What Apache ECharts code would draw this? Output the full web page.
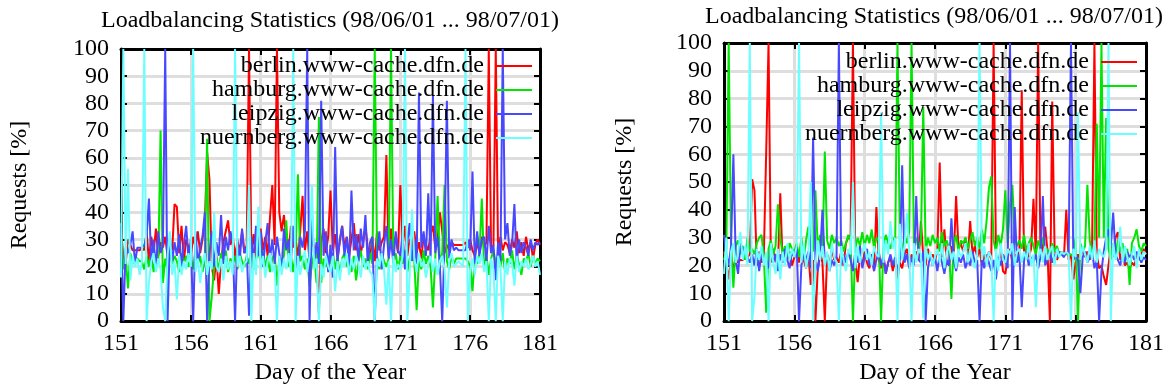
<!DOCTYPE html>
<html>
<head>
<meta charset="utf-8">
<title>Loadbalancing Statistics</title>
<script src="https://cdn.jsdelivr.net/npm/echarts@6/dist/echarts.min.js"></script>
<style>
  html, body { margin: 0; padding: 0; background: #fff; }
  #chart { width: 1167px; height: 390px; }
</style>
</head>
<body>
<div id="chart"></div>
<script>
// Share of requests handled by each DFN cache, sampled every 4 hours
// (6 samples per day) from day 151 to day 181.
const DAY_START = 151;
const SAMPLES_PER_DAY = 6;

const cacheNames = [
  'berlin.www-cache.dfn.de',
  'hamburg.www-cache.dfn.de',
  'leipzig.www-cache.dfn.de',
  'nuernberg.www-cache.dfn.de'
];
const cacheColors = ['#ff0000', '#00e600', '#4848ff', '#6cffff'];

const titleText = 'Loadbalancing Statistics (98/06/01 ... 98/07/01)';
const xTitle = 'Day of the Year';
const yTitle = 'Requests [%]';

// ---- first run ----
const berlinA = [
  33, 24, 21, 30, 28, 26,   26, 26, 26, 27, 26, 33,   22, 31, 25, 34, 24, 29,
  27, 31, 24, 29, 26, 43,   42, 25, 35, 22, 30, 27,   24, 31, 27, 33, 25, 30,
  36, 62, 52, 20, 15, 24,   10, 22, 29, 33, 37, 28,   31, 24, 29, 26, 33, 25,
  28, 100, 25, 32, 23, 30,  34, 26, 31, 24, 38, 50,   28, 100, 40, 33, 39, 30,
  25, 35, 27, 31, 23, 33,   46, 26, 33, 22, 30, 27,   24, 3, 29, 34, 25, 31,
  48, 26, 32, 23, 29, 35,   27, 31, 24, 30, 36, 26,   32, 25, 29, 35, 27, 24,
  30, 22, 33, 26, 29, 31,   61, 24, 34, 27, 31, 25,   50, 28, 35, 24, 30, 27,
  33, 25, 29, 23, 31, 28,   26, 32, 35, 27, 30, 40,   33, 25, 28, 26, 29, 28,
  28, 28, 28, 28, 29, 27,   30, 26, 24, 29, 25, 31,   27, 29, 100, 25, 28, 100,
  24, 31, 26, 29, 28, 25,   30, 27, 33, 25, 29, 24,   31, 26, 29, 23, 28, 30,
  28
];
const hamburgA = [
  36, 19, 24, 12, 25, 21,   23, 23, 22, 22, 19, 24,   20, 25, 18, 24, 21, 70,
  14, 23, 19, 25, 21, 24,   22, 18, 25, 21, 24, 20,   23, 19, 26, 21, 24, 18,
  22, 67, 0, 9, 20, 23,     19, 25, 21, 26, 18, 23,   21, 24, 19, 25, 22, 20,
  24, 21, 26, 19, 23, 25,   22, 26, 20, 24, 18, 23,   25, 13, 23, 21, 24, 37,
  20, 24, 18, 25, 54, 22,   24, 19, 23, 13, 21, 25,   14, 75, 14, 23, 20, 24,
  21, 25, 19, 24, 17, 23,   25, 20, 23, 18, 24, 15,   22, 26, 20, 23, 19, 25,
  21, 100, 24, 19, 25, 22,  20, 23, 100, 21, 25, 19,  24, 21, 26, 18, 23, 25,
  22, 4, 23, 19, 26, 21,    24, 20, 5, 23, 46, 21,    25, 50, 22, 19, 24, 21,
  23, 23, 23, 23, 23, 22,   20, 11, 24, 21, 25, 45,   19, 24, 17, 23, 26, 21,
  24, 20, 25, 18, 23, 21,   26, 19, 24, 21, 17, 23,   22, 25, 20, 24, 21, 23,
  22
];
const leipzigA = [
  35, 0, 27, 25, 28, 33,    21, 27, 27, 27, 28, 31,   45, 21, 30, 19, 33, 25,
  28, 100, 0, 31, 22, 29,   24, 32, 20, 28, 35, 23,   30, 0, 33, 21, 27, 31,
  40, 0, 25, 33, 20, 29,    24, 39, 21, 31, 26, 33,   29, 0, 30, 22, 34, 25,
  27, 2, 31, 22, 35, 24,    33, 20, 29, 36, 23, 30,   21, 31, 25, 19, 34, 26,
  30, 22, 35, 24, 19, 31,   27, 33, 100, 0, 40, 22,   29, 21, 81, 24, 33, 18,
  28, 16, 64, 22, 30, 35,   24, 31, 20, 48, 26, 32,   22, 34, 27, 39, 21, 29,
  31, 0, 25, 33, 19, 28,    35, 23, 30, 21, 33, 26,   24, 32, 19, 29, 36, 22,
  30, 21, 84, 27, 33, 24,   47, 22, 83, 25, 31, 20,   0, 29, 81, 23, 30, 26,
  27, 26, 26, 26, 26, 30,   26, 55, 21, 33, 24, 30,   31, 22, 35, 25, 28, 15,
  29, 22, 100, 30, 36, 24,  28, 43, 21, 30, 25, 29,   27, 24, 30, 26, 29, 28,
  29
];
const nuernbergA = [
  16, 100, 21, 56, 15, 24,  20, 23, 17, 22, 100, 0,   14, 22, 25, 18, 23, 19,
  5, 0, 24, 33, 17, 22,     8, 24, 17, 22, 19, 25,    20, 100, 18, 23, 14, 21,
  25, 17, 22, 19, 40, 20,   18, 23, 15, 24, 19, 22,   17, 100, 20, 24, 18, 21,
  22, 50, 0, 25, 17, 42,    19, 24, 16, 22, 25, 18,   21, 0, 24, 17, 23, 19,
  25, 18, 100, 0, 24, 17,   22, 26, 18, 24, 50, 19,   23, 0, 21, 16, 24, 20,
  18, 24, 11, 22, 15, 23,   20, 25, 17, 23, 19, 24,   21, 16, 24, 19, 22, 18,
  17, 0, 23, 20, 25, 19,    6, 22, 0, 24, 18, 21,     19, 24, 100, 0, 17, 41,
  23, 18, 25, 20, 22, 16,   21, 24, 18, 23, 17, 22,   24, 19, 5, 22, 25, 20,
  21, 22, 21, 20, 100, 0,   19, 23, 17, 24, 21, 25,   18, 22, 0, 23, 19, 0,
  24, 20, 0, 22, 17, 23,    21, 13, 24, 18, 22, 20,   23, 19, 21, 24, 20, 22,
  17
];

// ---- second run ----
const berlinB = [
  25, 21, 15, 22, 19, 23,   21, 22, 22, 23, 23, 24,   51, 47, 20, 25, 21, 24,
  61, 100, 21, 26, 22, 20,  46, 21, 24, 22, 25, 20,   23, 26, 21, 28, 22, 19,
  24, 13, 22, 0, 19, 25,    21, 0, 24, 20, 26, 22,    23, 21, 25, 20, 28, 30,
  31, 100, 22, 14, 24, 20,  25, 21, 19, 24, 18, 41,   22, 19, 24, 17, 21, 23,
  18, 22, 15, 21, 19, 24,   26, 20, 24, 21, 25, 22,   36, 23, 20, 26, 22, 24,
  22, 25, 57, 23, 33, 21,   20, 27, 23, 45, 26, 28,   25, 30, 22, 36, 24, 27,
  23, 26, 20, 24, 21, 25,   22, 100, 24, 20, 26, 18,  17, 23, 26, 21, 24, 22,
  25, 83, 22, 27, 23, 26,   44, 24, 100, 23, 27, 34,  25, 0, 79, 26, 22, 24,
  25, 23, 40, 22, 24, 15,   21, 24, 22, 26, 23, 25,   22, 26, 100, 24, 19, 20,
  16, 13, 20, 27, 23, 30,   32, 22, 25, 20, 21, 19,   21, 20, 23, 25, 24, 26,
  24
];
const hamburgB = [
  22, 26, 100, 28, 12, 27,  29, 24, 27, 22, 30, 25,   26, 24, 28, 30, 31, 23,
  3, 26, 29, 24, 27, 42,    30, 24, 27, 23, 28, 26,   25, 28, 23, 30, 22, 29,
  34, 27, 25, 47, 26, 31,   24, 61, 29, 26, 31, 28,   30, 27, 29, 25, 28, 31,
  29, 0, 26, 30, 27, 32,    27, 31, 28, 33, 26, 30,   29, 0, 27, 31, 28, 26,
  30, 27, 100, 29, 25, 31,  28, 32, 100, 27, 30, 26,  29, 77, 25, 30, 27, 31,
  28, 30, 25, 32, 27, 29,   26, 8, 28, 31, 25, 29,    28, 30, 26, 29, 32, 27,
  30, 26, 33, 28, 36, 48,   52, 29, 25, 31, 27, 33,   47, 28, 42, 49, 30, 27,
  29, 26, 31, 25, 28, 30,   27, 24, 29, 26, 30, 25,   26, 23, 28, 25, 27, 24,
  24, 24, 24, 24, 24, 23,   30, 0, 28, 25, 27, 49,    29, 24, 27, 71, 30, 100,
  30, 73, 26, 22, 28, 24,   29, 25, 28, 22, 26, 13,   28, 30, 33, 27, 25, 28,
  27
];
const leipzigB = [
  31, 24, 20, 27, 60, 22,   17, 28, 26, 25, 23, 21,   24, 20, 26, 18, 25, 21,
  22, 19, 26, 21, 24, 18,   24, 21, 26, 22, 19, 25,   23, 27, 0, 20, 24, 22,
  25, 19, 66, 22, 18, 24,   40, 21, 24, 18, 22, 20,   23, 100, 20, 24, 21, 25,
  22, 18, 25, 21, 27, 19,   23, 26, 20, 24, 18, 22,   25, 20, 23, 17, 21, 24,
  20, 23, 18, 22, 56, 21,   24, 19, 23, 20, 45, 22,   21, 25, 0, 19, 24, 20,
  23, 18, 24, 21, 17, 22,   20, 37, 22, 18, 23, 21,   24, 19, 22, 20, 25, 21,
  22, 0, 23, 19, 24, 21,    18, 22, 15, 23, 20, 24,   22, 19, 100, 0, 41, 21,
  24, 5, 22, 25, 20, 23,    21, 24, 19, 23, 45, 20,   22, 25, 21, 24, 23, 25,
  24, 23, 25, 24, 100, 22,  24, 22, 10, 23, 25, 21,   23, 25, 19, 22, 0, 18,
  25, 30, 33, 27, 39, 24,   22, 20, 24, 21, 25, 23,   24, 22, 25, 23, 21, 23,
  22
];
const nuernbergB = [
  17, 30, 0, 25, 28, 21,    24, 32, 22, 27, 20, 100,  0, 9, 26, 22, 27, 20,
  25, 0, 28, 21, 17, 26,    15, 25, 20, 28, 22, 26,   23, 27, 100, 21, 28, 19,
  24, 50, 0, 20, 29, 22,    27, 20, 25, 18, 28, 23,   21, 0, 27, 22, 18, 26,
  24, 50, 19, 27, 21, 25,   28, 22, 25, 20, 27, 24,   23, 75, 21, 29, 24, 36,
  26, 30, 0, 35, 22, 27,    39, 25, 0, 28, 21, 26,    24, 1, 27, 22, 25, 20,
  23, 26, 21, 28, 19, 25,   27, 22, 25, 19, 26, 23,   25, 28, 21, 26, 22, 19,
  24, 100, 22, 27, 20, 25,  23, 0, 26, 18, 28, 22,    21, 26, 24, 28, 20, 25,
  26, 21, 25, 22, 28, 20,   24, 5, 23, 26, 21, 27,    22, 25, 27, 20, 26, 23,
  25, 24, 25, 24, 0, 26,    23, 75, 22, 27, 24, 21,   27, 22, 29, 21, 26, 24,
  23, 26, 100, 0, 28, 22,   25, 34, 21, 27, 23, 20,   24, 27, 19, 26, 22, 25,
  24
];

const dayTicks = { min: 151, max: 181, interval: 5 };
const pctTicks = { min: 0, max: 100, interval: 10 };

const runA = [berlinA, hamburgA, leipzigA, nuernbergA];
const runB = [berlinB, hamburgB, leipzigB, nuernbergB];

const FONT = '"Liberation Serif", "DejaVu Serif", serif';
const text = { fontFamily: FONT, fontSize: 24, color: '#000' };

function toPoints(values) {
  return values.map((v, i) => [DAY_START + i / SAMPLES_PER_DAY, v]);
}

function xAxisFor(gridIndex, bottom) {
  return {
    type: 'value', gridIndex: gridIndex,
    position: bottom ? 'bottom' : 'top',
    min: dayTicks.min, max: dayTicks.max, interval: dayTicks.interval,
    name: bottom ? xTitle : '', nameLocation: 'middle', nameGap: 36,
    nameTextStyle: text,
    axisLine: { show: true, onZero: false, lineStyle: { color: '#000', width: 3 } },
    axisTick: { show: true, inside: true, length: 6, lineStyle: { color: '#000', width: 2 } },
    axisLabel: { show: bottom, margin: 11, ...text },
    splitLine: { show: bottom, lineStyle: { color: '#dedede', width: 3 } }
  };
}

function yAxisFor(gridIndex, left, gap) {
  return {
    type: 'value', gridIndex: gridIndex,
    position: left ? 'left' : 'right',
    min: pctTicks.min, max: pctTicks.max, interval: pctTicks.interval,
    name: left ? yTitle : '', nameLocation: 'middle', nameGap: gap, nameRotate: 90,
    nameTextStyle: text,
    axisLine: { show: true, onZero: false, lineStyle: { color: '#000', width: 3 } },
    axisTick: { show: true, inside: true, length: 6, lineStyle: { color: '#000', width: 2 } },
    axisLabel: { show: left, margin: 12, ...text },
    splitLine: { show: left, lineStyle: { color: '#dedede', width: 3 } }
  };
}

function seriesFor(run, axisIndex) {
  return run.map((values, k) => ({
    name: cacheNames[k],
    type: 'line',
    xAxisIndex: axisIndex, yAxisIndex: axisIndex,
    data: toPoints(values),
    showSymbol: false,
    color: cacheColors[k],
    lineStyle: { width: 2, color: cacheColors[k] },
    emphasis: { disabled: true }
  }));
}

function legendFor(right, top) {
  return {
    data: cacheNames,
    orient: 'vertical', align: 'right',
    right: right, top: top, padding: 0, itemGap: 0,
    icon: 'rect', itemWidth: 36, itemHeight: 2,
    textStyle: { ...text, lineHeight: 24, padding: [0, 7, 0, 0] },
    selectedMode: false
  };
}

const chart = echarts.init(document.getElementById('chart'), null, { renderer: 'canvas' });
chart.setOption({
  animation: false,
  backgroundColor: '#fff',
  title: [
    { text: titleText, left: 330, top: 9, textAlign: 'center', padding: 0,
      textStyle: { ...text, fontWeight: 'normal' } },
    { text: titleText, left: 934, top: 5, textAlign: 'center', padding: 0,
      textStyle: { ...text, fontWeight: 'normal' } }
  ],
  legend: [legendFor(635, 54), legendFor(30, 50)],
  grid: [
    { left: 121, top: 49, width: 419, height: 280 },
    { left: 724, top: 43, width: 422, height: 282 }
  ],
  xAxis: [xAxisFor(0, true), xAxisFor(0, false), xAxisFor(1, true), xAxisFor(1, false)],
  yAxis: [yAxisFor(0, true, 89), yAxisFor(0, false, 0), yAxisFor(1, true, 87), yAxisFor(1, false, 0)],
  series: [...seriesFor(runA, 0), ...seriesFor(runB, 2)]
});
</script>
</body>
</html>
